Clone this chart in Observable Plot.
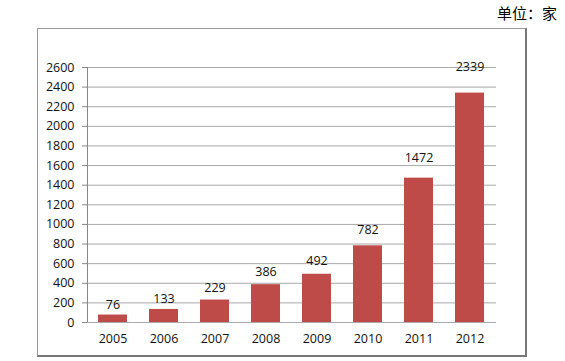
<!DOCTYPE html>
<html><head><meta charset="utf-8">
<script src="https://cdn.jsdelivr.net/npm/d3@7"></script>
<script src="https://cdn.jsdelivr.net/npm/@observablehq/plot@0.6"></script>
<style>
body{margin:0;background:#fff;width:565px;height:361px;overflow:hidden;position:relative;font-family:"Open Sans",sans-serif;}
#unit{position:absolute;right:8px;top:2px;font-family:"Noto Sans CJK SC",sans-serif;font-size:15px;color:#000;}
#box{position:absolute;left:37px;top:28px;width:487px;height:326px;border:1px solid #999;border-right:2px solid #777;border-bottom:2px solid #777;}
#chart{position:absolute;left:0;top:0;}
</style></head>
<body>
<div id="unit">单位：家</div>
<div id="box"></div>
<div id="chart"></div>
<script>
const years = ["2005","2006","2007","2008","2009","2010","2011","2012"];
const counts = [76, 133, 229, 386, 492, 782, 1472, 2339];
const yTicks = [0,200,400,600,800,1000,1200,1400,1600,1800,2000,2200,2400,2600];
const data = years.map((y,i)=>({year:y, value:counts[i]}));

const chart = Plot.plot({
  width: 565, height: 361,
  marginLeft: 87, marginRight: 69, marginTop: 67, marginBottom: 39,
  style: {fontFamily: "'Open Sans', sans-serif", fontSize: "12px", color: "#111", background: "transparent"},
  x: {domain: years, paddingInner: 0.43, paddingOuter: 0.215, label: null},
  y: {domain: [0, 2600], label: null},
  marks: [
    Plot.gridY(yTicks, {stroke: "#a8a8a8", strokeOpacity: 1}),
    Plot.axisY(yTicks, {tickSize: 5, tickPadding: 8, stroke: "#888", fontSize: 12.5, tickFormat: d => String(d)}),
    Plot.axisX({tickSize: 0, tickPadding: 12, fontSize: 12.5}),
    Plot.barY(data, {x: "year", y: "value", fill: "#be4b48"}),
    Plot.text(data, {x: "year", y: d => d.value * 1.07, text: d => String(d.value), dy: -10, fontSize: 12.5, fill: "#111"})
  ]
});
document.getElementById("chart").appendChild(chart);
const ys = chart.scale("y");
d3.select(chart).append("line")
  .attr("x1", 87.5).attr("x2", 87.5)
  .attr("y1", ys.apply(0)).attr("y2", ys.apply(2600))
  .attr("stroke", "#888");
</script>
</body></html>
